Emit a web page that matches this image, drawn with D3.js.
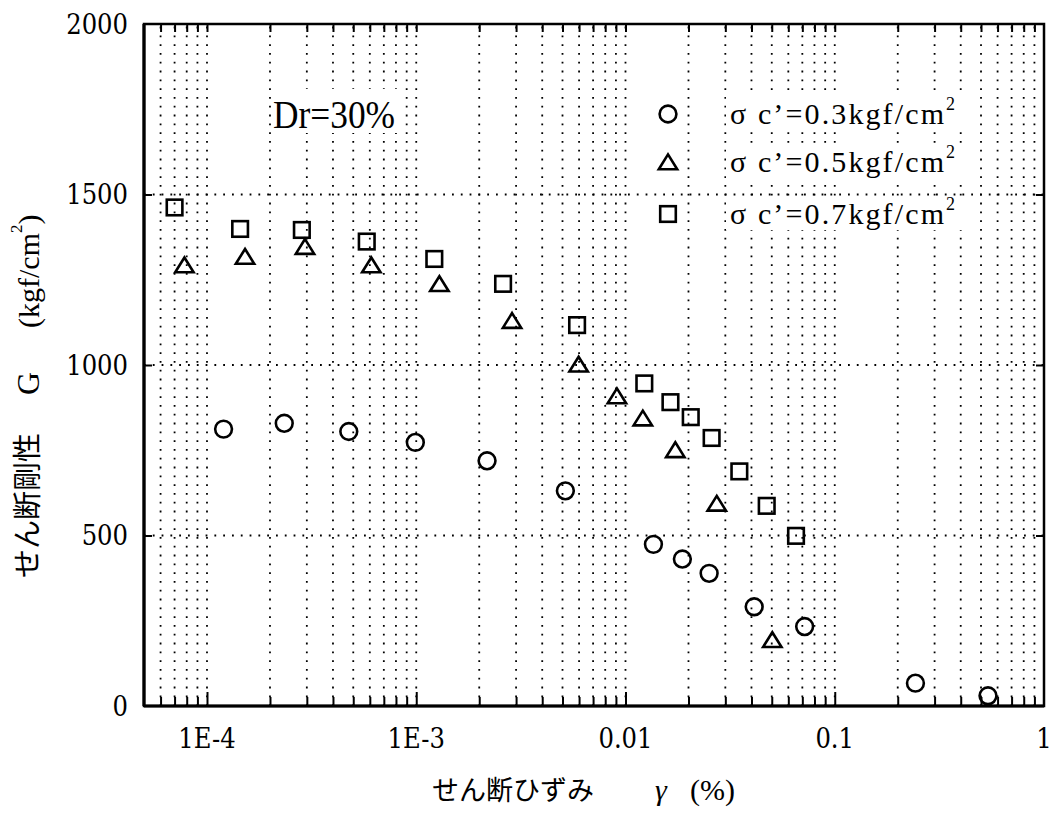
<!DOCTYPE html>
<html>
<head>
<meta charset="utf-8">
<script src="https://cdn.jsdelivr.net/npm/d3@7"></script>
<style>
  html, body { margin: 0; padding: 0; background: #fff; }
  svg { display: block; }
  text, tspan { font-family: "Liberation Serif", "Noto Sans CJK JP", serif; fill: #000; }
  .num { font-family: "DejaVu Serif Condensed", "DejaVu Serif", serif; }
</style>
</head>
<body>
<svg id="chart" width="1055" height="817"></svg>
<script>
// Shear strain (%) and shear modulus G (kgf/cm2) for Dr = 30%, three confining pressures
const strain03  = [1.2e-4, 2.34e-4, 4.76e-4, 9.9e-4, 2.18e-3, 5.16e-3, 0.0136, 0.0187, 0.0251, 0.0412, 0.0718, 0.243, 0.54];
const modulus03 = [812, 829, 805, 773, 719, 631, 474, 431, 389, 291, 233, 67, 30];

const strain05  = [7.8e-5, 1.52e-4, 2.94e-4, 6.1e-4, 1.29e-3, 2.87e-3, 5.97e-3, 9.1e-3, 0.0121, 0.0173, 0.0273, 0.0503];
const modulus05 = [1293, 1318, 1347, 1293, 1238, 1130, 1002, 909, 844, 751, 594, 194];

const strain07  = [7.0e-5, 1.44e-4, 2.84e-4, 5.8e-4, 1.22e-3, 2.6e-3, 5.87e-3, 0.0123, 0.0164, 0.0205, 0.0258, 0.035, 0.0473, 0.0653];
const modulus07 = [1462, 1399, 1396, 1362, 1311, 1238, 1117, 946, 891, 847, 786, 688, 587, 499];

const seriesNames = ["σ c’=0.3kgf/cm", "σ c’=0.5kgf/cm", "σ c’=0.7kgf/cm"];
const seriesShapes = ["circle", "triangle", "square"];

const xMajorTicks = [1e-4, 1e-3, 1e-2, 1e-1, 1];
const xTickLabels = ["1E-4", "1E-3", "0.01", "0.1", "1"];
const yTicks = [0, 500, 1000, 1500, 2000];
const yTickLabels = ["0", "500", "1000", "1500", "2000"];

const svg = d3.select("#chart");
const margin = { left: 144, right: 11, top: 24, bottom: 111 };
const W = 1055, H = 817;
const plotW = W - margin.left - margin.right;
const plotH = H - margin.top - margin.bottom;

const x = d3.scaleLog().domain([5e-5, 1]).range([0, plotW]);
const y = d3.scaleLinear().domain([0, 2000]).range([plotH, 0]);

const g = svg.append("g").attr("transform", `translate(${margin.left},${margin.top})`);

const allXTicks = x.ticks().filter(v => v > 5e-5 * 1.0001 && v < 0.9999);
const isMajor = v => xMajorTicks.some(m => Math.abs(v / m - 1) < 1e-6);
const minorTicks = allXTicks.filter(v => !isMajor(v));
const innerY = yTicks.filter(v => v > 0 && v < 2000);

// dotted grid
const grid = g.append("g").attr("stroke", "#000").attr("stroke-width", 1.8)
  .attr("stroke-dasharray", "1.8,7").attr("fill", "none");
grid.selectAll("line.v").data(allXTicks).join("line")
  .attr("class", "v")
  .attr("x1", d => x(d)).attr("x2", d => x(d))
  .attr("y1", plotH).attr("y2", 0);
grid.selectAll("line.h").data(innerY).join("line")
  .attr("class", "h")
  .attr("x1", 0).attr("x2", plotW)
  .attr("y1", d => y(d)).attr("y2", d => y(d));

// inward tick marks (labels are drawn separately below)
function styleAxis(sel) {
  sel.select(".domain").remove();
  sel.selectAll(".tick text").remove();
  sel.selectAll(".tick line").attr("stroke", "#000").attr("stroke-width", 2);
}
g.append("g").attr("transform", `translate(0,${plotH})`)
  .call(d3.axisBottom(x).tickValues(minorTicks).tickSize(-9))
  .call(styleAxis);
g.append("g").attr("transform", `translate(0,${plotH})`)
  .call(d3.axisBottom(x).tickValues(xMajorTicks.slice(0, 4)).tickSize(-14))
  .call(styleAxis);
g.append("g")
  .call(d3.axisTop(x).tickValues(allXTicks).tickSize(-8))
  .call(styleAxis);
g.append("g")
  .call(d3.axisLeft(y).tickValues(innerY).tickSize(-8))
  .call(styleAxis);
g.append("g").attr("transform", `translate(${plotW},0)`)
  .call(d3.axisRight(y).tickValues(innerY).tickSize(-8))
  .call(styleAxis);

// tick labels
g.append("g").selectAll("text").data(xMajorTicks).join("text")
  .attr("class", "num")
  .attr("x", d => x(d)).attr("y", plotH + 42)
  .attr("text-anchor", "middle").attr("font-size", 27)
  .text((d, i) => xTickLabels[i]);
g.append("g").selectAll("text").data(yTicks).join("text")
  .attr("class", "num")
  .attr("x", -16).attr("y", d => y(d))
  .attr("dy", "0.36em").attr("text-anchor", "end").attr("font-size", 27)
  .text((d, i) => yTickLabels[i]);

// frame
g.append("rect").attr("x", 0).attr("y", 0).attr("width", plotW).attr("height", plotH)
  .attr("fill", "none").attr("stroke", "#000").attr("stroke-width", 2.5);
g.append("line").attr("x1", 0).attr("x2", 0).attr("y1", 0).attr("y2", plotH)
  .attr("stroke", "#000").attr("stroke-width", 3.2);
g.append("line").attr("x1", 0).attr("x2", plotW).attr("y1", plotH).attr("y2", plotH)
  .attr("stroke", "#000").attr("stroke-width", 3.2);

// marker shapes
function drawShape(sel, shape) {
  if (shape === "circle") {
    sel.append("circle").attr("r", 8.4);
  } else if (shape === "square") {
    sel.append("rect").attr("x", -7.8).attr("y", -7.8).attr("width", 15.6).attr("height", 15.6);
  } else {
    sel.append("path").attr("d", "M0,-7.6L9.2,7.2L-9.2,7.2Z").attr("stroke-linejoin", "miter");
  }
}

const seriesData = [
  d3.zip(strain03, modulus03),
  d3.zip(strain05, modulus05),
  d3.zip(strain07, modulus07)
];

const marks = g.append("g").attr("fill", "none").attr("stroke", "#000").attr("stroke-width", 2.6);
seriesData.forEach((data, i) => {
  marks.append("g").selectAll("g").data(data).join("g")
    .attr("transform", d => `translate(${x(d[0])},${y(d[1])})`)
    .each(function () { drawShape(d3.select(this), seriesShapes[i]); });
});

// annotation
const dr = svg.append("g");
dr.append("rect").attr("x", 271).attr("y", 89).attr("width", 128).attr("height", 44).attr("fill", "#fff");
dr.append("text").attr("x", 273).attr("y", 128).attr("font-size", 40)
  .attr("textLength", 122).attr("lengthAdjust", "spacingAndGlyphs").text("Dr=30%");

// legend
const legend = svg.append("g");
const legendRows = [124, 172, 224];
seriesNames.forEach((name, i) => {
  const row = legend.append("g");
  row.append("rect").attr("x", 726).attr("y", legendRows[i] - 27).attr("width", 236).attr("height", 33).attr("fill", "#fff");
  const mk = row.append("g").attr("transform", `translate(668,${legendRows[i] - 10})`)
    .attr("fill", "none").attr("stroke", "#000").attr("stroke-width", 2.6);
  drawShape(mk, seriesShapes[i]);
  const t = row.append("text").attr("x", 730).attr("y", legendRows[i]).attr("font-size", 30);
  t.append("tspan").attr("textLength", 214).attr("lengthAdjust", "spacing").text(name);
  t.append("tspan").attr("font-size", 18).attr("dy", -14).text("2");
});

// axis titles
svg.append("text").attr("y", 800).attr("font-size", 27)
  .call(t => {
    t.append("tspan").attr("x", 432).text("せん断ひずみ");
    t.append("tspan").attr("x", 655).attr("font-style", "italic").attr("font-size", 30).text("γ");
    t.append("tspan").attr("x", 690).attr("font-size", 30).text("(%)");
  });

svg.append("text").attr("transform", "translate(28,0) rotate(-90)")
  .attr("dominant-baseline", "central").attr("font-size", 29)
  .call(t => {
    t.append("tspan").attr("x", -578).text("せん断剛性");
    t.append("tspan").attr("x", -395).attr("font-size", 32).text("G");
    t.append("tspan").attr("x", -328).attr("font-size", 30).text("(kgf/cm");
    t.append("tspan").attr("font-size", 17).attr("dy", -12).text("2");
    t.append("tspan").attr("dy", 12).attr("font-size", 30).text(")");
  });
</script>
</body>
</html>
